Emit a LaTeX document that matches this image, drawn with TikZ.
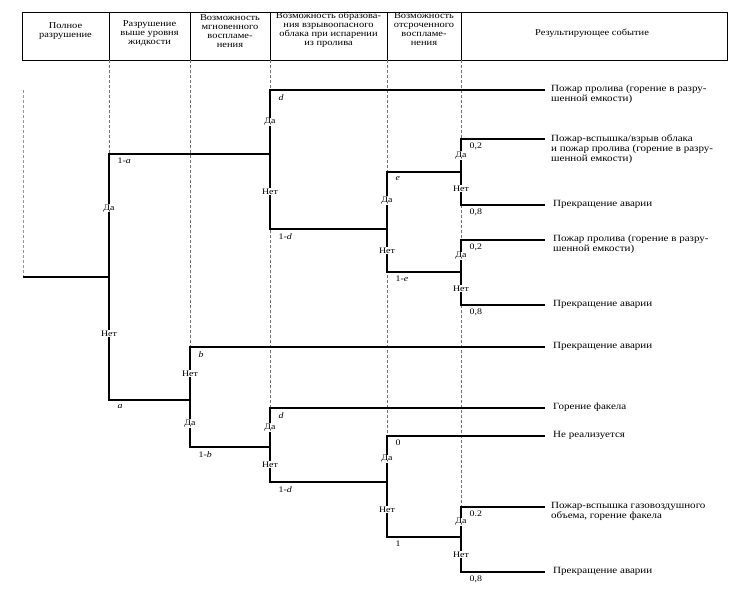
\documentclass[tikz,border=0pt]{standalone}
\usepackage{fontspec}
\setmainfont{Liberation Serif}[FakeStretch=1.16]
\usetikzlibrary{positioning}

\begin{document}
\begin{tikzpicture}[
	x=1pt,y=-1pt,
	branch/.style={
	  line width=1.4pt
	},
	guide/.style={
	  densely dashed,
	  black!55,
	  line width=0.4pt
	},
	frame/.style={
	  line width=1pt
	},
	head/.style={
	  align=center,
	  inner sep=0pt,
	  font=\fontsize{9}{9}\selectfont
	},
	yn/.style={
	  fill=white,
	  inner sep=0.6pt,
	  pos=0.25,
	  font=\fontsize{8.5}{9}\selectfont
	},
	prob/.style={
	  anchor=north west,
	  inner sep=0pt,
	  pos=0.5,
	  xshift=8pt,
	  yshift=-3.5pt,
	  font=\fontsize{8.5}{9}\selectfont
	},
	event/.style={
	  anchor=north west,
	  align=left,
	  inner sep=0pt,
	  yshift=5pt,
	  font=\fontsize{9.5}{10}\selectfont
	}
]
\useasboundingbox (0,0) rectangle (739,590);

% header
\draw[frame] (22,12) rectangle (727,60);
\foreach \x in {109,190,270,387,461}
  \draw[frame] (\x,12) -- (\x,60);
\coordinate (hb) at (0,60);

\node[head] (h1) at (65.5,31.5) {Полное\\разрушение};
\node[head] (h2) at (149.5,33.5) {Разрушение\\выше уровня\\жидкости};
\node[head] (h3) at (230,31) {Возможность\\мгновенного\\воспламе-\\нения};
\node[head] (h4) at (328.5,30) {Возможность образова-\\ния взрывоопасного\\облака при испарении\\из пролива};
\node[head] (h5) at (424,29.5) {Возможность\\отсроченного\\воспламе-\\нения};
\node[head] (h6) at (592,33) {Результирующее событие};

% branch points
\coordinate (r)  at (23,277);
\coordinate (n1) at (109,277);
\coordinate (n2) at (270,154);
\coordinate (n3) at (190,400);
\coordinate (n4) at (387,229);
\coordinate (n5) at (461,172);
\coordinate (n6) at (461,272);
\coordinate (n7) at (270,447);
\coordinate (n8) at (387,482);
\coordinate (n9) at (461,537);

% leaf ends
\coordinate (e1)  at (545,90);
\coordinate (e2)  at (545,139);
\coordinate (e3)  at (545,205);
\coordinate (e4)  at (545,240);
\coordinate (e5)  at (545,305);
\coordinate (e6)  at (545,347);
\coordinate (e7)  at (545,408);
\coordinate (e8)  at (545,436);
\coordinate (e9)  at (545,507);
\coordinate (e10) at (545,572);

% column guides
\draw[guide,black!40] (r |- e1) -- (r);
\draw[guide] (n1 |- hb) -- (n1 |- n2);
\draw[guide] (n3 |- hb) -- (n3 |- e6);
\draw[guide] (n2 |- hb) -- (n2 |- e7);
\draw[guide] (n4 |- hb) -- (n4 |- e8);
\draw[guide] (n5 |- hb) -- (n5 |- e9);

% tree
\draw[branch] (r) -- (n1);
\draw[branch] (n1) |- node[yn,pos=0.28]{Да} node[prob]{1-\textit{a}} (n2);
\draw[branch] (n1) |- node[yn,pos=0.23]{Нет} node[prob]{\textit{a}} (n3);

\draw[branch] (n2) |- node[yn]{Да} node[prob]{\textit{d}} (e1);
\draw[branch] (n2) |- node[yn]{Нет} node[prob]{1-\textit{d}} (n4);

\draw[branch] (n4) |- node[yn]{Да} node[prob]{\textit{e}} (n5);
\draw[branch] (n4) |- node[yn]{Нет} node[prob]{1-\textit{e}} (n6);

\draw[branch] (n5) |- node[yn]{Да} node[prob]{0,2} (e2);
\draw[branch] (n5) |- node[yn]{Нет} node[prob]{0,8} (e3);

\draw[branch] (n6) |- node[yn]{Да} node[prob]{0,2} (e4);
\draw[branch] (n6) |- node[yn]{Нет} node[prob]{0,8} (e5);

\draw[branch] (n3) |- node[yn]{Нет} node[prob]{\textit{b}} (e6);
\draw[branch] (n3) |- node[yn]{Да} node[prob]{1-\textit{b}} (n7);

\draw[branch] (n7) |- node[yn]{Да} node[prob]{\textit{d}} (e7);
\draw[branch] (n7) |- node[yn]{Нет} node[prob]{1-\textit{d}} (n8);

\draw[branch] (n8) |- node[yn]{Да} node[prob]{0} (e8);
\draw[branch] (n8) |- node[yn]{Нет} node[prob]{1} (n9);

\draw[branch] (n9) |- node[yn]{Да} node[prob]{0.2} (e9);
\draw[branch] (n9) |- node[yn]{Нет} node[prob]{0,8} (e10);

% resulting events
\node[right=6pt of e1,event] (t1) {Пожар пролива (горение в разру-\\шенной емкости)};
\node[right=6pt of e2,event] (t2) {Пожар-вспышка/взрыв облака\\и пожар пролива (горение в разру-\\шенной емкости)};
\node[right=8pt of e3,event] (t3) {Прекращение аварии};
\node[right=8pt of e4,event] (t4) {Пожар пролива (горение в разру-\\шенной емкости)};
\node[right=8pt of e5,event] (t5) {Прекращение аварии};
\node[right=8pt of e6,event] (t6) {Прекращение аварии};
\node[right=8pt of e7,event] (t7) {Горение факела};
\node[right=8pt of e8,event] (t8) {Не реализуется};
\node[right=6pt of e9,event] (t9) {Пожар-вспышка газовоздушного\\объема, горение факела};
\node[right=8pt of e10,event] (t10) {Прекращение аварии};

\end{tikzpicture}
\end{document}
